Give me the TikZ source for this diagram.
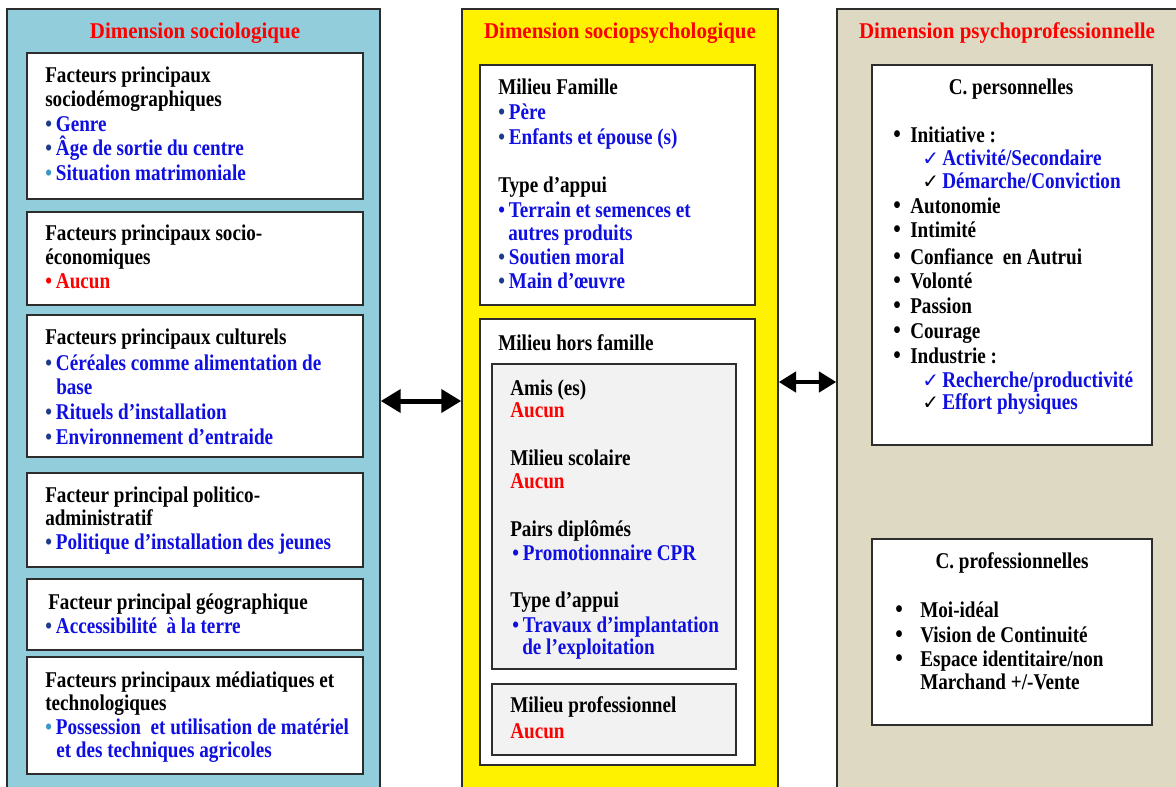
\documentclass[tikz,border=0pt]{standalone}
\usepackage{fontspec}
\usetikzlibrary{arrows.meta,fit}
\setmainfont{Liberation Serif}
\newfontfamily\bodyfont{Liberation Serif}[FakeStretch=0.85]
\newfontfamily\titlefont{Liberation Serif}[FakeStretch=0.93]
\newfontfamily\dejavu{DejaVu Sans}
\definecolor{colA}{RGB}{146,205,220}
\definecolor{colC}{RGB}{221,217,195}
\definecolor{gbox}{RGB}{242,242,242}
\definecolor{tred}{RGB}{255,0,0}
\definecolor{tblue}{RGB}{15,15,225}
\definecolor{bnavy}{RGB}{31,60,140}
\definecolor{blight}{RGB}{60,150,200}
\definecolor{bord}{RGB}{45,45,45}
\newcommand\bl[1]{\makebox[8pt][l]{\color{#1}•}}
\newcommand\rb{\makebox[12.75pt][l]{\fontsize{19pt}{19pt}\selectfont\raisebox{-0.6pt}{•}}}
\newcommand\rbb{\makebox[18.75pt][l]{\fontsize{19pt}{19pt}\selectfont\raisebox{-0.6pt}{•}}}
\newcommand\ck[1]{\makebox[15pt][l]{\fontsize{15pt}{15pt}\dejavu\mdseries\color{#1}✓}}
\begin{document}
\begin{tikzpicture}[x=0.75pt,y=-0.75pt,
  colbox/.style={draw=bord,line width=1.1pt,inner sep=0pt},
  wbox/.style={draw=bord,line width=1.1pt,fill=white,inner sep=0pt},
  gbx/.style={draw=bord,line width=1.1pt,fill=gbox,inner sep=0pt},
  txt/.style={anchor=base west,inner sep=0pt,text=black,font={\fontsize{16.9pt}{20pt}\bodyfont\bfseries}},
  ctxt/.style={txt,anchor=base},
  tb/.style={text=tblue},
  tr/.style={text=tred},
  ttl/.style={anchor=base,inner sep=0pt,text=tred,font={\fontsize{16.9pt}{20pt}\titlefont\bfseries}},
  dblA/.style={line width=3.75pt,{Triangle[length=15pt,width=17pt]}-{Triangle[length=15pt,width=17pt]}},
  dblB/.style={line width=3.3pt,{Triangle[length=13pt,width=15pt]}-{Triangle[length=13pt,width=15pt]}}
]
\useasboundingbox (0,0) rectangle (1176,786);
\clip (0,0) rectangle (1176,786);
\fill[white] (0,0) rectangle (1176,786);
% columns
\node[colbox,fill=colA,fit={(7,9) (380,800)}] (c1) {};
\node[colbox,fill=yellow,fit={(462,9) (778,800)}] (c2) {};
\node[colbox,fill=colC,fit={(837,9) (1200,800)}] (c3) {};
\node[ttl] (t1) at (195,38) {Dimension sociologique};
\node[ttl] (t2) at (620,38) {Dimension sociopsychologique};
\node[ttl] (t3) at (1007,38) {Dimension psychoprofessionnelle};
% left boxes
\node[wbox,fit={(27,53) (363,199)}] (b1) {};
\node[wbox,fit={(27,212) (363,305)}] (b2) {};
\node[wbox,fit={(27,315) (363,457)}] (b3) {};
\node[wbox,fit={(27,473) (363,567)}] (b4) {};
\node[wbox,fit={(27,579) (363,650)}] (b5) {};
\node[wbox,fit={(27,657) (363,774)}] (b6) {};
\node[txt] (a1) at (45,82) {Facteurs principaux};
\node[txt] (a2) at (45,106) {sociodémographiques};
\node[txt,tb] (a3) at (45,131) {\bl{bnavy}Genre};
\node[txt,tb] (a4) at (45,155) {\bl{bnavy}Âge de sortie du centre};
\node[txt,tb] (a5) at (45,180) {\bl{blight}Situation matrimoniale};
\node[txt] (a6) at (45,240) {Facteurs principaux socio-};
\node[txt] (a7) at (45,264) {économiques};
\node[txt,tr] (a8) at (45,288) {\bl{tred}Aucun};
\node[txt] (a9) at (45,344) {Facteurs principaux culturels};
\node[txt,tb] (a10) at (45,370) {\bl{bnavy}Céréales comme alimentation de};
\node[txt,tb] (a11) at (56,394) {base};
\node[txt,tb] (a12) at (45,419) {\bl{bnavy}Rituels d’installation};
\node[txt,tb] (a13) at (45,444) {\bl{bnavy}Environnement d’entraide};
\node[txt] (a14) at (45,502) {Facteur principal politico-};
\node[txt] (a15) at (45,525) {administratif};
\node[txt,tb] (a16) at (45,549) {\bl{bnavy}Politique d’installation des jeunes};
\node[txt] (a17) at (48,609) {Facteur principal géographique};
\node[txt,tb] (a18) at (45,633) {\bl{bnavy}Accessibilité\ \ à la terre};
\node[txt] (a19) at (45,687) {Facteurs principaux médiatiques et};
\node[txt] (a20) at (45,710) {technologiques};
\node[txt,tb] (a21) at (45,734) {\bl{blight}Possession\ \ et utilisation de matériel};
\node[txt,tb] (a22) at (56,757) {et des techniques agricoles};
% middle boxes
\node[wbox,fit={(480,65) (755,305)}] (m1) {};
\node[wbox,fit={(480,319) (755,765)}] (m2) {};
\node[gbx,fit={(492,364) (736,669)}] (g1) {};
\node[gbx,fit={(492,684) (736,755)}] (g2) {};
\node[txt] (n1) at (498,94) {Milieu Famille};
\node[txt,tb] (n2) at (498,119) {\bl{bnavy}Père};
\node[txt,tb] (n3) at (498,144) {\bl{bnavy}Enfants et épouse (s)};
\node[txt] (n4) at (498,192) {Type d’appui};
\node[txt,tb] (n5) at (498,217) {\bl{tblue}Terrain et semences et};
\node[txt,tb] (n6) at (508,240) {autres produits};
\node[txt,tb] (n7) at (498,264) {\bl{bnavy}Soutien moral};
\node[txt,tb] (n8) at (498,288) {\bl{bnavy}Main d’œuvre};
\node[txt] (n9) at (498,350) {Milieu hors famille};
\node[txt] (n10) at (510,395) {Amis (es)};
\node[txt,tr] (n11) at (510,417) {Aucun};
\node[txt] (n12) at (510,465) {Milieu scolaire};
\node[txt,tr] (n13) at (510,488) {Aucun};
\node[txt] (n14) at (510,536) {Pairs diplômés};
\node[txt,tb] (n15) at (512,560) {\bl{tblue}Promotionnaire CPR};
\node[txt] (n16) at (510,607) {Type d’appui};
\node[txt,tb] (n17) at (512,632) {\bl{tblue}Travaux d’implantation};
\node[txt,tb] (n18) at (522,654) {de l’exploitation};
\node[txt] (n19) at (510,712) {Milieu professionnel};
\node[txt,tr] (n20) at (510,738) {Aucun};
% right boxes
\node[wbox,fit={(872,65) (1152,445)}] (r1) {};
\node[wbox,fit={(872,539) (1152,725)}] (r2) {};
\node[ctxt] (p0) at (1011,94) {C. personnelles};
\node[txt] (p1) at (893,142) {\rb Initiative :};
\node[txt,tb] (p2) at (922,165) {\ck{tblue}Activité/Secondaire};
\node[txt,tb] (p3) at (922,188) {\ck{black}Démarche/Conviction};
\node[txt] (p4) at (893,213) {\rb Autonomie};
\node[txt] (p5) at (893,237) {\rb Intimité};
\node[txt] (p6) at (893,264) {\rb Confiance\ \ en Autrui};
\node[txt] (p7) at (893,288) {\rb Volonté};
\node[txt] (p8) at (893,313) {\rb Passion};
\node[txt] (p9) at (893,338) {\rb Courage};
\node[txt] (p10) at (893,363) {\rb Industrie :};
\node[txt,tb] (p11) at (922,387) {\ck{tblue}Recherche/productivité};
\node[txt,tb] (p12) at (922,409) {\ck{black}Effort physiques};
\node[ctxt] (q0) at (1012,568) {C. professionnelles};
\node[txt] (q1) at (895,617) {\rbb Moi-idéal};
\node[txt] (q2) at (895,642) {\rbb Vision de Continuité};
\node[txt] (q3) at (895,666) {\rbb Espace identitaire/non};
\node[txt] (q4) at (920,689) {Marchand +/-Vente};
% arrows
\draw[dblA] (c1.east |- 0,401) -- (c2.west |- 0,401);
\draw[dblB] (c2.east |- 0,382) -- (c3.west |- 0,382);
\end{tikzpicture}
\end{document}
